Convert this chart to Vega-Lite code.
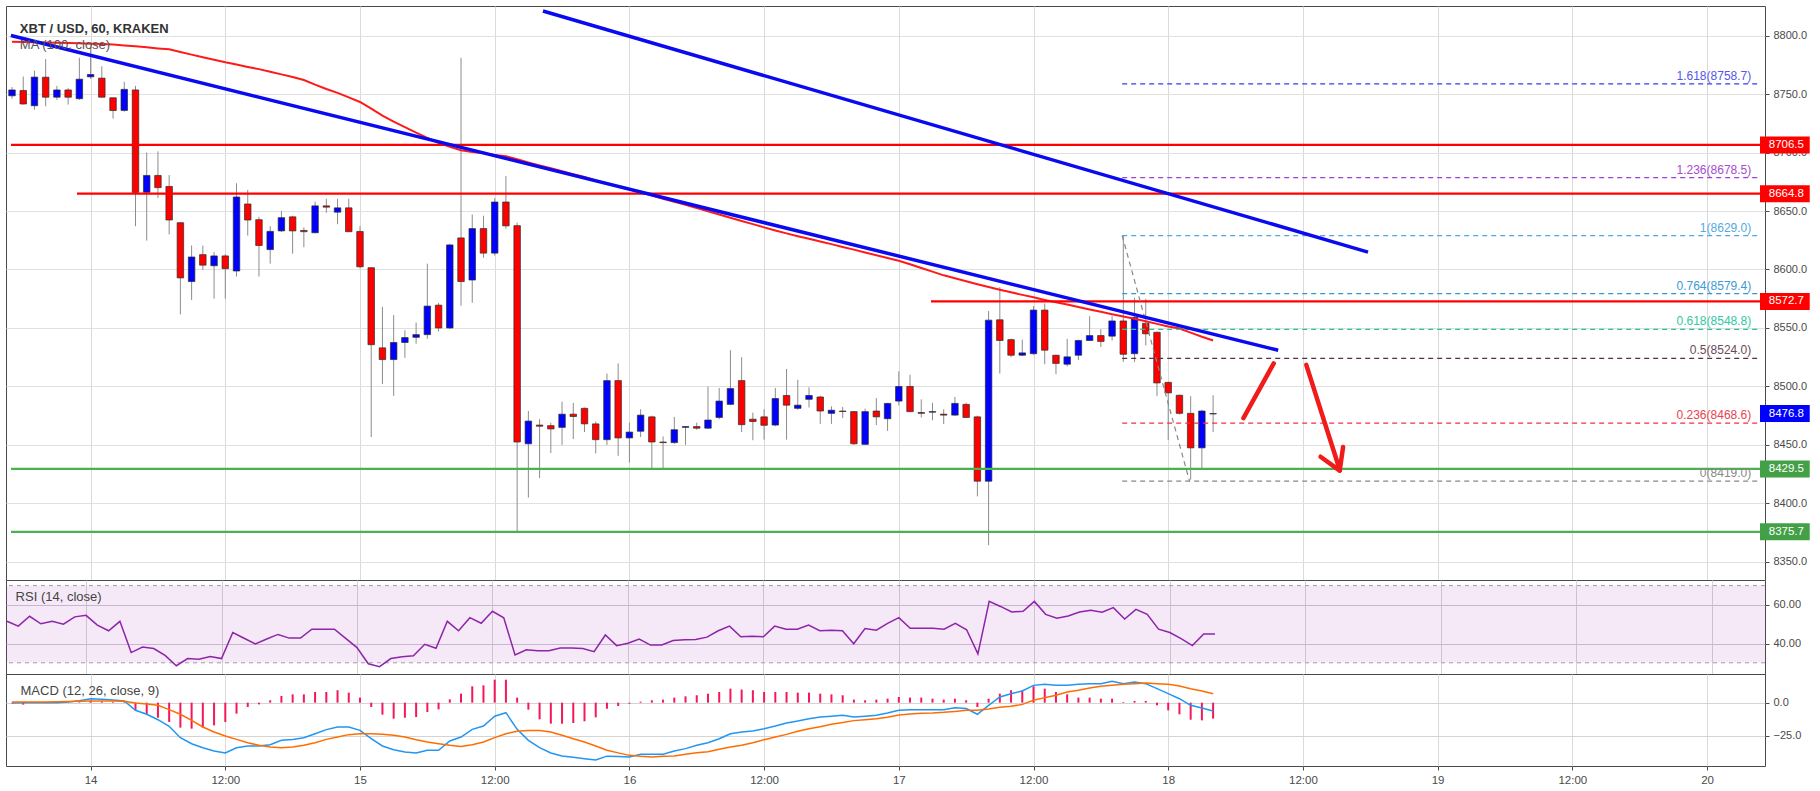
{
"$schema":"https://vega.github.io/schema/vega-lite/v6.json",
"padding":{"left":3,"top":3,"right":0,"bottom":0},
"autosize":{"type":"pad"},
"background":"white",
"spacing":0,
"bounds":"flush",
"config":{"view":{"stroke":"#4a4a4a","strokeWidth":1},"axis":{"labelFont":"Liberation Sans","labelFontSize":11,"labelColor":"#4a4a4a","tickColor":"#4a4a4a"},"text":{"font":"Liberation Sans"}},
"datasets":{
"bars":[
{"hour":-7,"open":8748.5,"high":8756,"low":8746,"close":8753.5,"ma100":8794.7,"rsi":51.5,"macd":-0.2,"signal":0.5,"hist":-0.5},
{"hour":-6,"open":8753,"high":8765,"low":8741,"close":8741.5,"ma100":8794.5,"rsi":49.0,"macd":0,"signal":0.5,"hist":-1.5},
{"hour":-5,"open":8740,"high":8770,"low":8736.7,"close":8764.5,"ma100":8794.3,"rsi":54.1,"macd":0,"signal":0.5,"hist":-0.3},
{"hour":-4,"open":8764.4,"high":8780,"low":8739.5,"close":8747.3,"ma100":8794.1,"rsi":50.2,"macd":0,"signal":0.5,"hist":-0.3},
{"hour":-3,"open":8747.3,"high":8757,"low":8745,"close":8753.5,"ma100":8793.9,"rsi":51.5,"macd":0,"signal":0.6,"hist":-0.3},
{"hour":-2,"open":8753.5,"high":8755,"low":8741,"close":8747.3,"ma100":8793.7,"rsi":50.0,"macd":0.5,"signal":0.8,"hist":-0.2},
{"hour":-1,"open":8746,"high":8781,"low":8745,"close":8762.7,"ma100":8793.5,"rsi":53.8,"macd":1.5,"signal":1.0,"hist":0.4},
{"hour":0,"open":8764.7,"high":8790,"low":8763,"close":8766.7,"ma100":8793.1,"rsi":54.6,"macd":3.0,"signal":1.2,"hist":1.5},
{"hour":1,"open":8763.6,"high":8773.7,"low":8747,"close":8747.3,"ma100":8792.8,"rsi":49.5,"macd":2.5,"signal":1.3,"hist":1.1},
{"hour":2,"open":8746.8,"high":8747,"low":8729,"close":8735.9,"ma100":8792.3,"rsi":46.6,"macd":2.0,"signal":1.3,"hist":0.6},
{"hour":3,"open":8736,"high":8760.5,"low":8735,"close":8754,"ma100":8791.5,"rsi":51.5,"macd":1.3,"signal":1.0,"hist":0.4},
{"hour":4,"open":8753.5,"high":8757,"low":8637,"close":8665.9,"ma100":8790.8,"rsi":35.3,"macd":-5.8,"signal":-0.2,"hist":-5.8},
{"hour":5,"open":8666,"high":8700,"low":8624.7,"close":8680.4,"ma100":8790,"rsi":38.2,"macd":-8.8,"signal":-1.0,"hist":-8.8},
{"hour":6,"open":8680.4,"high":8701,"low":8661,"close":8670,"ma100":8789,"rsi":37.4,"macd":-12.9,"signal":-2.0,"hist":-11.4},
{"hour":7,"open":8671,"high":8680.7,"low":8630,"close":8642.3,"ma100":8788.2,"rsi":33.8,"macd":-17.9,"signal":-5.3,"hist":-14.6},
{"hour":8,"open":8640,"high":8640.5,"low":8561.7,"close":8592.8,"ma100":8786,"rsi":28.5,"macd":-26.5,"signal":-8.8,"hist":-18.9},
{"hour":9,"open":8589.7,"high":8620.5,"low":8574,"close":8610.7,"ma100":8783.7,"rsi":32.2,"macd":-31.1,"signal":-13.4,"hist":-19.7},
{"hour":10,"open":8612.7,"high":8620.5,"low":8599.5,"close":8603.7,"ma100":8781.5,"rsi":31.9,"macd":-34.1,"signal":-18.4,"hist":-18.9},
{"hour":11,"open":8603.2,"high":8615,"low":8575,"close":8611.6,"ma100":8779.3,"rsi":33.3,"macd":-36.6,"signal":-22.2,"hist":-17.2},
{"hour":12,"open":8611.6,"high":8613,"low":8575,"close":8600.7,"ma100":8777.1,"rsi":32.2,"macd":-38.1,"signal":-25.2,"hist":-14.6},
{"hour":13,"open":8598.7,"high":8673.7,"low":8594,"close":8662,"ma100":8775.2,"rsi":45.7,"macd":-34.1,"signal":-27.8,"hist":-8.3},
{"hour":14,"open":8656,"high":8668,"low":8629,"close":8642.3,"ma100":8773.2,"rsi":42.7,"macd":-32.8,"signal":-30.3,"hist":-3.3},
{"hour":15,"open":8642.6,"high":8645,"low":8594,"close":8620.5,"ma100":8771.3,"rsi":39.8,"macd":-32.8,"signal":-32.3,"hist":-1.3},
{"hour":16,"open":8617,"high":8637,"low":8605,"close":8632.6,"ma100":8769,"rsi":42.3,"macd":-31.8,"signal":-33.6,"hist":1.8},
{"hour":17,"open":8633,"high":8650,"low":8632,"close":8644.3,"ma100":8766.8,"rsi":44.7,"macd":-28.5,"signal":-34.1,"hist":5.1},
{"hour":18,"open":8645,"high":8646,"low":8613.5,"close":8633,"ma100":8764.6,"rsi":42.8,"macd":-27.8,"signal":-33.6,"hist":6.3},
{"hour":19,"open":8633.4,"high":8636,"low":8619,"close":8632.3,"ma100":8762,"rsi":42.8,"macd":-26.5,"signal":-32.3,"hist":6.3},
{"hour":20,"open":8631.4,"high":8658,"low":8631,"close":8654.4,"ma100":8758,"rsi":47.4,"macd":-23.5,"signal":-30.3,"hist":8.1},
{"hour":21,"open":8654.4,"high":8660.5,"low":8648.5,"close":8653.3,"ma100":8754.3,"rsi":47.4,"macd":-20.4,"signal":-27.8,"hist":8.1},
{"hour":22,"open":8649,"high":8660.5,"low":8638.7,"close":8652.7,"ma100":8751,"rsi":47.4,"macd":-18.4,"signal":-26,"hist":9.4},
{"hour":23,"open":8652.7,"high":8660.5,"low":8632,"close":8632.3,"ma100":8747.2,"rsi":42.7,"macd":-18.4,"signal":-24.2,"hist":7.6},
{"hour":24,"open":8632.5,"high":8637,"low":8601,"close":8602.3,"ma100":8743.2,"rsi":37.9,"macd":-21,"signal":-23.5,"hist":3.8},
{"hour":25,"open":8601.5,"high":8602,"low":8456.7,"close":8535.7,"ma100":8737.5,"rsi":29.5,"macd":-27.3,"signal":-23.5,"hist":-3.3},
{"hour":26,"open":8533,"high":8568,"low":8502,"close":8523,"ma100":8731.6,"rsi":28.0,"macd":-32.8,"signal":-24,"hist":-9.1},
{"hour":27,"open":8523,"high":8561,"low":8492,"close":8537.6,"ma100":8726.5,"rsi":32.2,"macd":-35.6,"signal":-24.7,"hist":-12.1},
{"hour":28,"open":8537.6,"high":8548,"low":8524.5,"close":8541.8,"ma100":8721.8,"rsi":33.1,"macd":-37.4,"signal":-26,"hist":-11.4},
{"hour":29,"open":8542,"high":8554.7,"low":8536.5,"close":8544.3,"ma100":8717,"rsi":33.6,"macd":-38.1,"signal":-28,"hist":-10.9},
{"hour":30,"open":8544.3,"high":8605,"low":8540.7,"close":8568.7,"ma100":8712.6,"rsi":39.6,"macd":-36.1,"signal":-29.8,"hist":-7.1},
{"hour":31,"open":8569.5,"high":8571.5,"low":8547,"close":8550,"ma100":8708.4,"rsi":37.5,"macd":-36.1,"signal":-31.1,"hist":-5.1},
{"hour":32,"open":8550,"high":8622,"low":8549,"close":8621,"ma100":8704.8,"rsi":51.5,"macd":-29,"signal":-32.3,"hist":2.5},
{"hour":33,"open":8627,"high":8781,"low":8569,"close":8589.7,"ma100":8702,"rsi":46.6,"macd":-26,"signal":-33.1,"hist":6.8},
{"hour":34,"open":8591,"high":8647,"low":8571.5,"close":8635,"ma100":8700.5,"rsi":53.4,"macd":-20.2,"signal":-31.8,"hist":12.4},
{"hour":35,"open":8635,"high":8646,"low":8610,"close":8614,"ma100":8699.3,"rsi":50.5,"macd":-17.7,"signal":-29.8,"hist":13.1},
{"hour":36,"open":8614,"high":8661,"low":8612,"close":8657.7,"ma100":8698,"rsi":56.7,"macd":-10.3,"signal":-26.5,"hist":17.4},
{"hour":37,"open":8657.7,"high":8680,"low":8635,"close":8637.3,"ma100":8696.8,"rsi":53.3,"macd":-7.6,"signal":-23.5,"hist":17.4},
{"hour":38,"open":8637.5,"high":8640,"low":8375.5,"close":8452.5,"ma100":8694.2,"rsi":34.1,"macd":-20.2,"signal":-21.7,"hist":3.8},
{"hour":39,"open":8451,"high":8479,"low":8405,"close":8470.4,"ma100":8691.6,"rsi":36.7,"macd":-28.5,"signal":-21,"hist":-5.3},
{"hour":40,"open":8467,"high":8472,"low":8421.7,"close":8466,"ma100":8689,"rsi":36.3,"macd":-34.1,"signal":-21,"hist":-12.6},
{"hour":41,"open":8466.5,"high":8469,"low":8443,"close":8463.7,"ma100":8686.5,"rsi":36.3,"macd":-38.1,"signal":-22.2,"hist":-15.9},
{"hour":42,"open":8465,"high":8487,"low":8450,"close":8476.3,"ma100":8684,"rsi":37.7,"macd":-40.4,"signal":-24.7,"hist":-15.9},
{"hour":43,"open":8476.3,"high":8486,"low":8455,"close":8474.3,"ma100":8681.5,"rsi":37.7,"macd":-41.4,"signal":-27.3,"hist":-15.4},
{"hour":44,"open":8481.3,"high":8482,"low":8461,"close":8468,"ma100":8679,"rsi":37.4,"macd":-42.4,"signal":-29.8,"hist":-14.1},
{"hour":45,"open":8468,"high":8470,"low":8442.7,"close":8454.5,"ma100":8676.2,"rsi":35.8,"macd":-43.4,"signal":-32.8,"hist":-11.1},
{"hour":46,"open":8454.5,"high":8511,"low":8450,"close":8505,"ma100":8673.6,"rsi":44.4,"macd":-40.5,"signal":-36,"hist":-4.6},
{"hour":47,"open":8505,"high":8519.7,"low":8440.7,"close":8456,"ma100":8671,"rsi":38.9,"macd":-40.8,"signal":-38,"hist":-2.5},
{"hour":48,"open":8456,"high":8469,"low":8435,"close":8461,"ma100":8668.5,"rsi":40.1,"macd":-41.1,"signal":-39.9,"hist":-0.8},
{"hour":49,"open":8461.7,"high":8480.5,"low":8456.7,"close":8475.5,"ma100":8666,"rsi":42.3,"macd":-39.1,"signal":-40.6,"hist":0.8},
{"hour":50,"open":8474,"high":8475,"low":8429,"close":8452.5,"ma100":8663.3,"rsi":39.2,"macd":-39.1,"signal":-41.1,"hist":1.8},
{"hour":51,"open":8452.5,"high":8457.3,"low":8430.1,"close":8452,"ma100":8660.5,"rsi":39.2,"macd":-39.1,"signal":-40.6,"hist":2.3},
{"hour":52,"open":8452,"high":8474,"low":8451,"close":8463,"ma100":8657.8,"rsi":41.5,"macd":-36.6,"signal":-40.4,"hist":3.8},
{"hour":53,"open":8465,"high":8466,"low":8450,"close":8465.7,"ma100":8655.3,"rsi":42.0,"macd":-34.8,"signal":-39.1,"hist":4.8},
{"hour":54,"open":8465.7,"high":8469,"low":8463,"close":8464.3,"ma100":8652.5,"rsi":42.1,"macd":-32.3,"signal":-37.9,"hist":5.6},
{"hour":55,"open":8464.3,"high":8500,"low":8463.7,"close":8471.3,"ma100":8649.8,"rsi":43.3,"macd":-30.3,"signal":-37.1,"hist":6.8},
{"hour":56,"open":8473.5,"high":8498.7,"low":8472,"close":8487.5,"ma100":8647,"rsi":46.6,"macd":-27.3,"signal":-35.3,"hist":8.1},
{"hour":57,"open":8484.7,"high":8531,"low":8484,"close":8498.2,"ma100":8644.2,"rsi":49.0,"macd":-23.5,"signal":-33.6,"hist":10.6},
{"hour":58,"open":8505,"high":8525,"low":8461,"close":8467.3,"ma100":8641.5,"rsi":43.5,"macd":-22.2,"signal":-32.3,"hist":9.9},
{"hour":59,"open":8472,"high":8477.7,"low":8454,"close":8470,"ma100":8638.8,"rsi":43.8,"macd":-21.5,"signal":-30.3,"hist":9.4},
{"hour":60,"open":8474,"high":8480.5,"low":8454.5,"close":8466.8,"ma100":8636,"rsi":43.5,"macd":-19.7,"signal":-28,"hist":8.1},
{"hour":61,"open":8467,"high":8498.7,"low":8466,"close":8489.7,"ma100":8633.4,"rsi":49.0,"macd":-17.7,"signal":-26,"hist":8.1},
{"hour":62,"open":8492.3,"high":8515,"low":8454.5,"close":8484,"ma100":8630.9,"rsi":47.4,"macd":-15.4,"signal":-24,"hist":8.1},
{"hour":63,"open":8481.3,"high":8505.7,"low":8480,"close":8484,"ma100":8628.5,"rsi":47.4,"macd":-13.9,"signal":-21.7,"hist":7.6},
{"hour":64,"open":8489,"high":8499.3,"low":8482,"close":8492.3,"ma100":8626.3,"rsi":49.5,"macd":-12.1,"signal":-19.7,"hist":7.6},
{"hour":65,"open":8491,"high":8492,"low":8468,"close":8479,"ma100":8624,"rsi":46.6,"macd":-10.9,"signal":-18.2,"hist":6.8},
{"hour":66,"open":8477,"high":8483,"low":8468,"close":8479.7,"ma100":8621.7,"rsi":46.9,"macd":-10.3,"signal":-16.4,"hist":6.3},
{"hour":67,"open":8479,"high":8482.5,"low":8473,"close":8478.6,"ma100":8619.3,"rsi":46.6,"macd":-9.6,"signal":-15.1,"hist":5.6},
{"hour":68,"open":8478.5,"high":8479,"low":8450,"close":8451,"ma100":8617,"rsi":39.9,"macd":-10.9,"signal":-13.6,"hist":2.3},
{"hour":69,"open":8450.5,"high":8481,"low":8450,"close":8478.5,"ma100":8614.6,"rsi":47.8,"macd":-10.3,"signal":-12.9,"hist":1.8},
{"hour":70,"open":8479,"high":8490,"low":8467,"close":8474,"ma100":8612.2,"rsi":46.9,"macd":-9.6,"signal":-12.1,"hist":2.3},
{"hour":71,"open":8472.4,"high":8486,"low":8462,"close":8485.5,"ma100":8609.8,"rsi":50.4,"macd":-7.8,"signal":-11.1,"hist":3.0},
{"hour":72,"open":8487.5,"high":8513,"low":8484,"close":8500,"ma100":8607.4,"rsi":53.4,"macd":-5.8,"signal":-9.3,"hist":4.3},
{"hour":73,"open":8500,"high":8510,"low":8478,"close":8478.5,"ma100":8604.5,"rsi":47.9,"macd":-5.3,"signal":-8.6,"hist":3.8},
{"hour":74,"open":8477.7,"high":8489,"low":8473.5,"close":8477,"ma100":8601.3,"rsi":47.9,"macd":-5.3,"signal":-8.1,"hist":3.8},
{"hour":75,"open":8478,"high":8486,"low":8471,"close":8478.5,"ma100":8598.2,"rsi":47.9,"macd":-5.3,"signal":-7.8,"hist":3.0},
{"hour":76,"open":8476.3,"high":8480.5,"low":8467.9,"close":8475.5,"ma100":8595,"rsi":47.4,"macd":-5.3,"signal":-7.3,"hist":2.3},
{"hour":77,"open":8475.5,"high":8491,"low":8475,"close":8485.5,"ma100":8592.5,"rsi":50.4,"macd":-3.8,"signal":-6.6,"hist":3.0},
{"hour":78,"open":8484.7,"high":8486,"low":8473,"close":8473.5,"ma100":8590,"rsi":47.1,"macd":-4.5,"signal":-5.8,"hist":1.8},
{"hour":79,"open":8474,"high":8475,"low":8406,"close":8419,"ma100":8587.4,"rsi":34.6,"macd":-8.8,"signal":-5.8,"hist":-3.3},
{"hour":80,"open":8419,"high":8564.5,"low":8364.3,"close":8556.7,"ma100":8585,"rsi":61.8,"macd":-2.0,"signal":-4.8,"hist":3.0},
{"hour":81,"open":8557,"high":8585,"low":8511,"close":8539.3,"ma100":8582.7,"rsi":59.2,"macd":4.3,"signal":-3.5,"hist":6.8},
{"hour":82,"open":8540,"high":8541,"low":8525,"close":8526.7,"ma100":8580.5,"rsi":56.3,"macd":6.8,"signal":-2.8,"hist":9.4},
{"hour":83,"open":8526.7,"high":8540,"low":8526,"close":8528.7,"ma100":8578.3,"rsi":56.7,"macd":8.8,"signal":-1.3,"hist":9.4},
{"hour":84,"open":8528,"high":8568.7,"low":8527,"close":8565.3,"ma100":8576.2,"rsi":61.8,"macd":13.1,"signal":1.8,"hist":12.4},
{"hour":85,"open":8565.3,"high":8571,"low":8519,"close":8531,"ma100":8574,"rsi":55.1,"macd":13.9,"signal":3.8,"hist":10.6},
{"hour":86,"open":8526.7,"high":8527,"low":8510.5,"close":8519.7,"ma100":8572,"rsi":53.1,"macd":13.1,"signal":5.6,"hist":8.1},
{"hour":87,"open":8519,"high":8540.7,"low":8517,"close":8525.3,"ma100":8570,"rsi":54.3,"macd":13.1,"signal":8.1,"hist":6.3},
{"hour":88,"open":8526.7,"high":8540,"low":8522.5,"close":8539.3,"ma100":8567.9,"rsi":56.3,"macd":13.9,"signal":9.4,"hist":3.8},
{"hour":89,"open":8539.3,"high":8560,"low":8539,"close":8543.5,"ma100":8565.8,"rsi":57.2,"macd":14.4,"signal":11.1,"hist":3.8},
{"hour":90,"open":8543.5,"high":8549,"low":8533.7,"close":8538.5,"ma100":8563.8,"rsi":56.2,"macd":14.4,"signal":12.4,"hist":3.0},
{"hour":91,"open":8543,"high":8560,"low":8539.3,"close":8556,"ma100":8561.8,"rsi":58.6,"macd":16.2,"signal":13.1,"hist":3.0},
{"hour":92,"open":8556,"high":8629,"low":8521,"close":8527.5,"ma100":8559.8,"rsi":52.7,"macd":14.4,"signal":13.9,"hist":0.5},
{"hour":93,"open":8528,"high":8575.7,"low":8521,"close":8559,"ma100":8557.8,"rsi":57.7,"macd":15.7,"signal":14.4,"hist":1.3},
{"hour":94,"open":8554,"high":8575,"low":8535,"close":8545,"ma100":8555.7,"rsi":55.1,"macd":14.4,"signal":14.9,"hist":1.3},
{"hour":95,"open":8546.3,"high":8547,"low":8491.7,"close":8503,"ma100":8553.5,"rsi":47.4,"macd":10.6,"signal":14.4,"hist":-2.0},
{"hour":96,"open":8503.5,"high":8504,"low":8454.3,"close":8494.5,"ma100":8551.3,"rsi":45.7,"macd":6.8,"signal":13.9,"hist":-5.8},
{"hour":97,"open":8492.5,"high":8493,"low":8476,"close":8477,"ma100":8549.5,"rsi":42.5,"macd":3.0,"signal":12.6,"hist":-8.8},
{"hour":98,"open":8477,"high":8491.7,"low":8420.3,"close":8447.5,"ma100":8546,"rsi":38.9,"macd":-2.0,"signal":10.6,"hist":-12.9},
{"hour":99,"open":8447.5,"high":8480,"low":8430,"close":8479,"ma100":8542.5,"rsi":44.9,"macd":-4.0,"signal":8.8,"hist":-13.4},
{"hour":100,"open":8476.5,"high":8492.5,"low":8461,"close":8476.8,"ma100":8539.3,"rsi":44.9,"macd":-6.3,"signal":6.8,"hist":-12.1}
],
"hlines":[
{"price":8706.5,"start":-7.09,"kind":"resistance"},
{"price":8664.8,"start":-1.21,"kind":"resistance"},
{"price":8572.7,"start":74.87,"kind":"resistance"},
{"price":8429.5,"start":-7.09,"kind":"support"},
{"price":8375.7,"start":-7.09,"kind":"support"}
],
"boxes":[
{"price":8706.5,"kind":"resistance"},
{"price":8664.8,"kind":"resistance"},
{"price":8572.7,"kind":"resistance"},
{"price":8476.8,"kind":"last"},
{"price":8429.5,"kind":"support"},
{"price":8375.7,"kind":"support"}
],
"fib":[
{"ratio":"1.618","level":8758.7,"label":"1.618(8758.7)"},
{"ratio":"1.236","level":8678.5,"label":"1.236(8678.5)"},
{"ratio":"1","level":8629.0,"label":"1(8629.0)"},
{"ratio":"0.764","level":8579.4,"label":"0.764(8579.4)"},
{"ratio":"0.618","level":8548.8,"label":"0.618(8548.8)"},
{"ratio":"0.5","level":8524.0,"label":"0.5(8524.0)"},
{"ratio":"0.236","level":8468.6,"label":"0.236(8468.6)"},
{"ratio":"0","level":8419.0,"label":"0(8419.0)"}
],
"fibdiag":[{"hour":91.9,"price":8629.0},{"hour":97.9,"price":8419.0}],
"trend":[
{"id":"t1","hour":-7.1,"price":8800},{"id":"t1","hour":105.8,"price":8530.9},
{"id":"t2","hour":40.3,"price":8821},{"id":"t2","hour":113.8,"price":8614.9}
],
"arrows":[
{"id":"a1","ord":1,"hour":102.7,"price":8473},{"id":"a1","ord":2,"hour":105.4,"price":8519.7},
{"id":"a2","ord":1,"hour":108.3,"price":8518.4},{"id":"a2","ord":2,"hour":111.3,"price":8428.1},
{"id":"a3","ord":1,"hour":109.57,"price":8439.9},{"id":"a3","ord":2,"hour":111.28,"price":8428.1},{"id":"a3","ord":3,"hour":111.58,"price":8448.3}
]
},
"vconcat":[
{
"width":1759,"height":574,
"resolve":{"scale":{"color":"independent"}},
"layer":[
{"data":{"name":"bars"},"mark":{"type":"rule","color":"#8c8c8c","strokeWidth":1},
 "encoding":{
  "x":{"field":"hour","type":"quantitative","scale":{"domain":[-7.09,148.72],"nice":false,"zero":false},
       "axis":{"values":[0,12,24,36,48,60,72,84,96,108,120,132,144],"labels":false,"ticks":false,"domain":false,"grid":true,"gridColor":"#dadada","title":null}},
  "y":{"field":"low","type":"quantitative","scale":{"domain":[8338.8,8821],"nice":false,"zero":false},
       "axis":{"orient":"right","values":[8350,8375,8400,8425,8450,8475,8500,8525,8550,8575,8600,8625,8650,8675,8700,8725,8750,8775,8800],"format":".1f","grid":true,"gridColor":"#e0e0e0","tickSize":4,"labelPadding":4,"domain":false,"title":null}},
  "y2":{"field":"high"}}},
{"data":{"name":"bars"},"mark":{"type":"bar","size":6.5,"stroke":"#2a2f2a","strokeWidth":0.7},
 "encoding":{
  "x":{"field":"hour","type":"quantitative","scale":{"domain":[-7.09,148.72],"nice":false,"zero":false}},
  "y":{"field":"open","type":"quantitative","scale":{"domain":[8338.8,8821],"nice":false,"zero":false}},
  "y2":{"field":"close"},
  "color":{"condition":{"test":"datum.close >= datum.open","value":"#0000ff"},"value":"#ff0000"}}},
{"data":{"name":"bars"},"mark":{"type":"line","color":"#ff1a1a","strokeWidth":2},
 "encoding":{
  "x":{"field":"hour","type":"quantitative","scale":{"domain":[-7.09,148.72],"nice":false,"zero":false}},
  "y":{"field":"ma100","type":"quantitative","scale":{"domain":[8338.8,8821],"nice":false,"zero":false}}}},
{"data":{"name":"hlines"},"mark":{"type":"rule","strokeWidth":2.2},
 "encoding":{
  "x":{"field":"start","type":"quantitative","scale":{"domain":[-7.09,148.72],"nice":false,"zero":false}},
  "x2":{"datum":148.72},
  "y":{"field":"price","type":"quantitative","scale":{"domain":[8338.8,8821],"nice":false,"zero":false}},
  "color":{"field":"kind","type":"nominal","scale":{"domain":["resistance","support"],"range":["#ff0000","#4caf50"]},"legend":null}}},
{"data":{"name":"fib"},"mark":{"type":"rule","strokeWidth":1.2,"strokeDash":[5,4]},
 "encoding":{
  "x":{"datum":91.9,"type":"quantitative","scale":{"domain":[-7.09,148.72],"nice":false,"zero":false}},
  "x2":{"datum":148.72},
  "y":{"field":"level","type":"quantitative","scale":{"domain":[8338.8,8821],"nice":false,"zero":false}},
  "color":{"field":"ratio","type":"nominal","scale":{"domain":["1.618","1.236","1","0.764","0.618","0.5","0.236","0"],"range":["#3a3aee","#a040d0","#4fa9de","#2f98d0","#2fbf95","#5a3040","#f0304a","#888888"]},"legend":null}}},
{"data":{"name":"fibdiag"},"mark":{"type":"line","color":"#888888","strokeWidth":1.2,"strokeDash":[5,4]},
 "encoding":{
  "x":{"field":"hour","type":"quantitative","scale":{"domain":[-7.09,148.72],"nice":false,"zero":false}},
  "y":{"field":"price","type":"quantitative","scale":{"domain":[8338.8,8821],"nice":false,"zero":false}}}},
{"data":{"name":"trend"},"mark":{"type":"line","color":"#0a0af0","strokeWidth":3.5},
 "encoding":{
  "x":{"field":"hour","type":"quantitative","scale":{"domain":[-7.09,148.72],"nice":false,"zero":false}},
  "y":{"field":"price","type":"quantitative","scale":{"domain":[8338.8,8821],"nice":false,"zero":false}},
  "detail":{"field":"id"}}},
{"data":{"name":"arrows"},"mark":{"type":"line","color":"#f01c1c","strokeWidth":4.5,"strokeCap":"round","strokeJoin":"round"},
 "encoding":{
  "x":{"field":"hour","type":"quantitative","scale":{"domain":[-7.09,148.72],"nice":false,"zero":false}},
  "y":{"field":"price","type":"quantitative","scale":{"domain":[8338.8,8821],"nice":false,"zero":false}},
  "detail":{"field":"id"},"order":{"field":"ord"}}},
{"data":{"name":"fib"},"mark":{"type":"text","align":"right","baseline":"bottom","dy":-1,"fontSize":12},
 "encoding":{
  "x":{"datum":147.94,"type":"quantitative","scale":{"domain":[-7.09,148.72],"nice":false,"zero":false}},
  "y":{"field":"level","type":"quantitative","scale":{"domain":[8338.8,8821],"nice":false,"zero":false}},
  "text":{"field":"label"},
  "color":{"field":"ratio","type":"nominal","scale":{"domain":["1.618","1.236","1","0.764","0.618","0.5","0.236","0"],"range":["#5656e6","#a64bd1","#54a9e0","#3d9ad4","#34c7a0","#6b4a55","#e8434f","#888888"]},"legend":null}}},
{"data":{"name":"boxes"},"mark":{"type":"bar","size":17,"orient":"horizontal"},
 "encoding":{
  "x":{"datum":148.72,"type":"quantitative","scale":{"domain":[-7.09,148.72],"nice":false,"zero":false}},
  "x2":{"datum":153.15},
  "y":{"field":"price","type":"quantitative","scale":{"domain":[8338.8,8821],"nice":false,"zero":false}},
  "color":{"field":"kind","type":"nominal","scale":{"domain":["resistance","support","last"],"range":["#ff0000","#43a047","#0000ff"]},"legend":null}}},
{"data":{"name":"boxes"},"mark":{"type":"text","align":"left","baseline":"middle","fontSize":11.5,"color":"white"},
 "encoding":{
  "x":{"datum":149.5,"type":"quantitative","scale":{"domain":[-7.09,148.72],"nice":false,"zero":false}},
  "y":{"field":"price","type":"quantitative","scale":{"domain":[8338.8,8821],"nice":false,"zero":false}},
  "text":{"field":"price","type":"quantitative","format":".1f"}}},
{"data":{"values":[{"t":"XBT / USD, 60, KRAKEN"}]},"mark":{"type":"text","align":"left","baseline":"middle","fontSize":13,"fontWeight":"bold","color":"#333333"},
 "encoding":{
  "x":{"datum":-6.3,"type":"quantitative","scale":{"domain":[-7.09,148.72],"nice":false,"zero":false}},
  "y":{"datum":8806,"type":"quantitative","scale":{"domain":[8338.8,8821],"nice":false,"zero":false}},
  "text":{"field":"t"}}},
{"data":{"values":[{"t":"MA (100, close)"}]},"mark":{"type":"text","align":"left","baseline":"middle","fontSize":13,"color":"#555555"},
 "encoding":{
  "x":{"datum":-6.3,"type":"quantitative","scale":{"domain":[-7.09,148.72],"nice":false,"zero":false}},
  "y":{"datum":8791.9,"type":"quantitative","scale":{"domain":[8338.8,8821],"nice":false,"zero":false}},
  "text":{"field":"t"}}}
]
},
{
"width":1759,"height":94,
"layer":[
{"data":{"values":[{}]},"mark":{"type":"rect","color":"#9c27b0","opacity":0.1},
 "encoding":{
  "x":{"datum":-7.09,"type":"quantitative","scale":{"domain":[-7.09,148.72],"nice":false,"zero":false},
       "axis":{"values":[0,12,24,36,48,60,72,84,96,108,120,132,144],"labels":false,"ticks":false,"domain":false,"grid":true,"gridColor":"#d4d4d4","title":null}},
  "x2":{"datum":148.72},
  "y":{"datum":30,"type":"quantitative","scale":{"domain":[24.2,72.9],"nice":false,"zero":false},
       "axis":{"orient":"right","values":[40,60],"format":".2f","grid":true,"gridColor":"#cfc6d4","tickSize":4,"labelPadding":4,"domain":false,"title":null}},
  "y2":{"datum":70}}},
{"data":{"values":[{"lvl":70},{"lvl":30}]},"mark":{"type":"rule","color":"#a898b0","strokeDash":[4,4],"strokeWidth":1},
 "encoding":{
  "y":{"field":"lvl","type":"quantitative","scale":{"domain":[24.2,72.9],"nice":false,"zero":false}}}},
{"data":{"name":"bars"},"mark":{"type":"line","color":"#8e24aa","strokeWidth":1.5},
 "encoding":{
  "x":{"field":"hour","type":"quantitative","scale":{"domain":[-7.09,148.72],"nice":false,"zero":false}},
  "y":{"field":"rsi","type":"quantitative","scale":{"domain":[24.2,72.9],"nice":false,"zero":false}}}},
{"data":{"values":[{"t":"RSI (14, close)"}]},"mark":{"type":"text","align":"left","baseline":"middle","fontSize":13,"color":"#444444"},
 "encoding":{
  "x":{"datum":-6.24,"type":"quantitative","scale":{"domain":[-7.09,148.72],"nice":false,"zero":false}},
  "y":{"datum":64,"type":"quantitative","scale":{"domain":[24.2,72.9],"nice":false,"zero":false}},
  "text":{"field":"t"}}}
]
},
{
"width":1759,"height":92,
"layer":[
{"data":{"name":"bars"},"mark":{"type":"bar","size":2,"color":"#f5175a"},
 "encoding":{
  "x":{"field":"hour","type":"quantitative","scale":{"domain":[-7.09,148.72],"nice":false,"zero":false},
       "axis":{"values":[0,12,24,36,48,60,72,84,96,108,120,132,144],"labelExpr":"datum.value % 24 == 0 ? '' + (14 + datum.value / 24) : '12:00'","tickSize":4,"labelPadding":4,"labelFontSize":11.5,"domain":false,"grid":true,"gridColor":"#dadada","title":null}},
  "y":{"field":"hist","type":"quantitative","scale":{"domain":[-47.95,21.7],"nice":false,"zero":false},
       "axis":{"orient":"right","values":[0,-25],"format":".1f","grid":true,"gridColor":"#d4d4d4","tickSize":4,"labelPadding":4,"domain":false,"title":null}},
  "y2":{"datum":0}}},
{"data":{"name":"bars"},"mark":{"type":"line","color":"#2196f3","strokeWidth":1.5},
 "encoding":{
  "x":{"field":"hour","type":"quantitative","scale":{"domain":[-7.09,148.72],"nice":false,"zero":false}},
  "y":{"field":"macd","type":"quantitative","scale":{"domain":[-47.95,21.7],"nice":false,"zero":false}}}},
{"data":{"name":"bars"},"mark":{"type":"line","color":"#ff6d00","strokeWidth":1.5},
 "encoding":{
  "x":{"field":"hour","type":"quantitative","scale":{"domain":[-7.09,148.72],"nice":false,"zero":false}},
  "y":{"field":"signal","type":"quantitative","scale":{"domain":[-47.95,21.7],"nice":false,"zero":false}}}},
{"data":{"values":[{"t":"MACD (12, 26, close, 9)"}]},"mark":{"type":"text","align":"left","baseline":"middle","fontSize":13,"color":"#444444"},
 "encoding":{
  "x":{"datum":-6.24,"type":"quantitative","scale":{"domain":[-7.09,148.72],"nice":false,"zero":false}},
  "y":{"datum":8.9,"type":"quantitative","scale":{"domain":[-47.95,21.7],"nice":false,"zero":false}},
  "text":{"field":"t"}}}
]
}
]
}
